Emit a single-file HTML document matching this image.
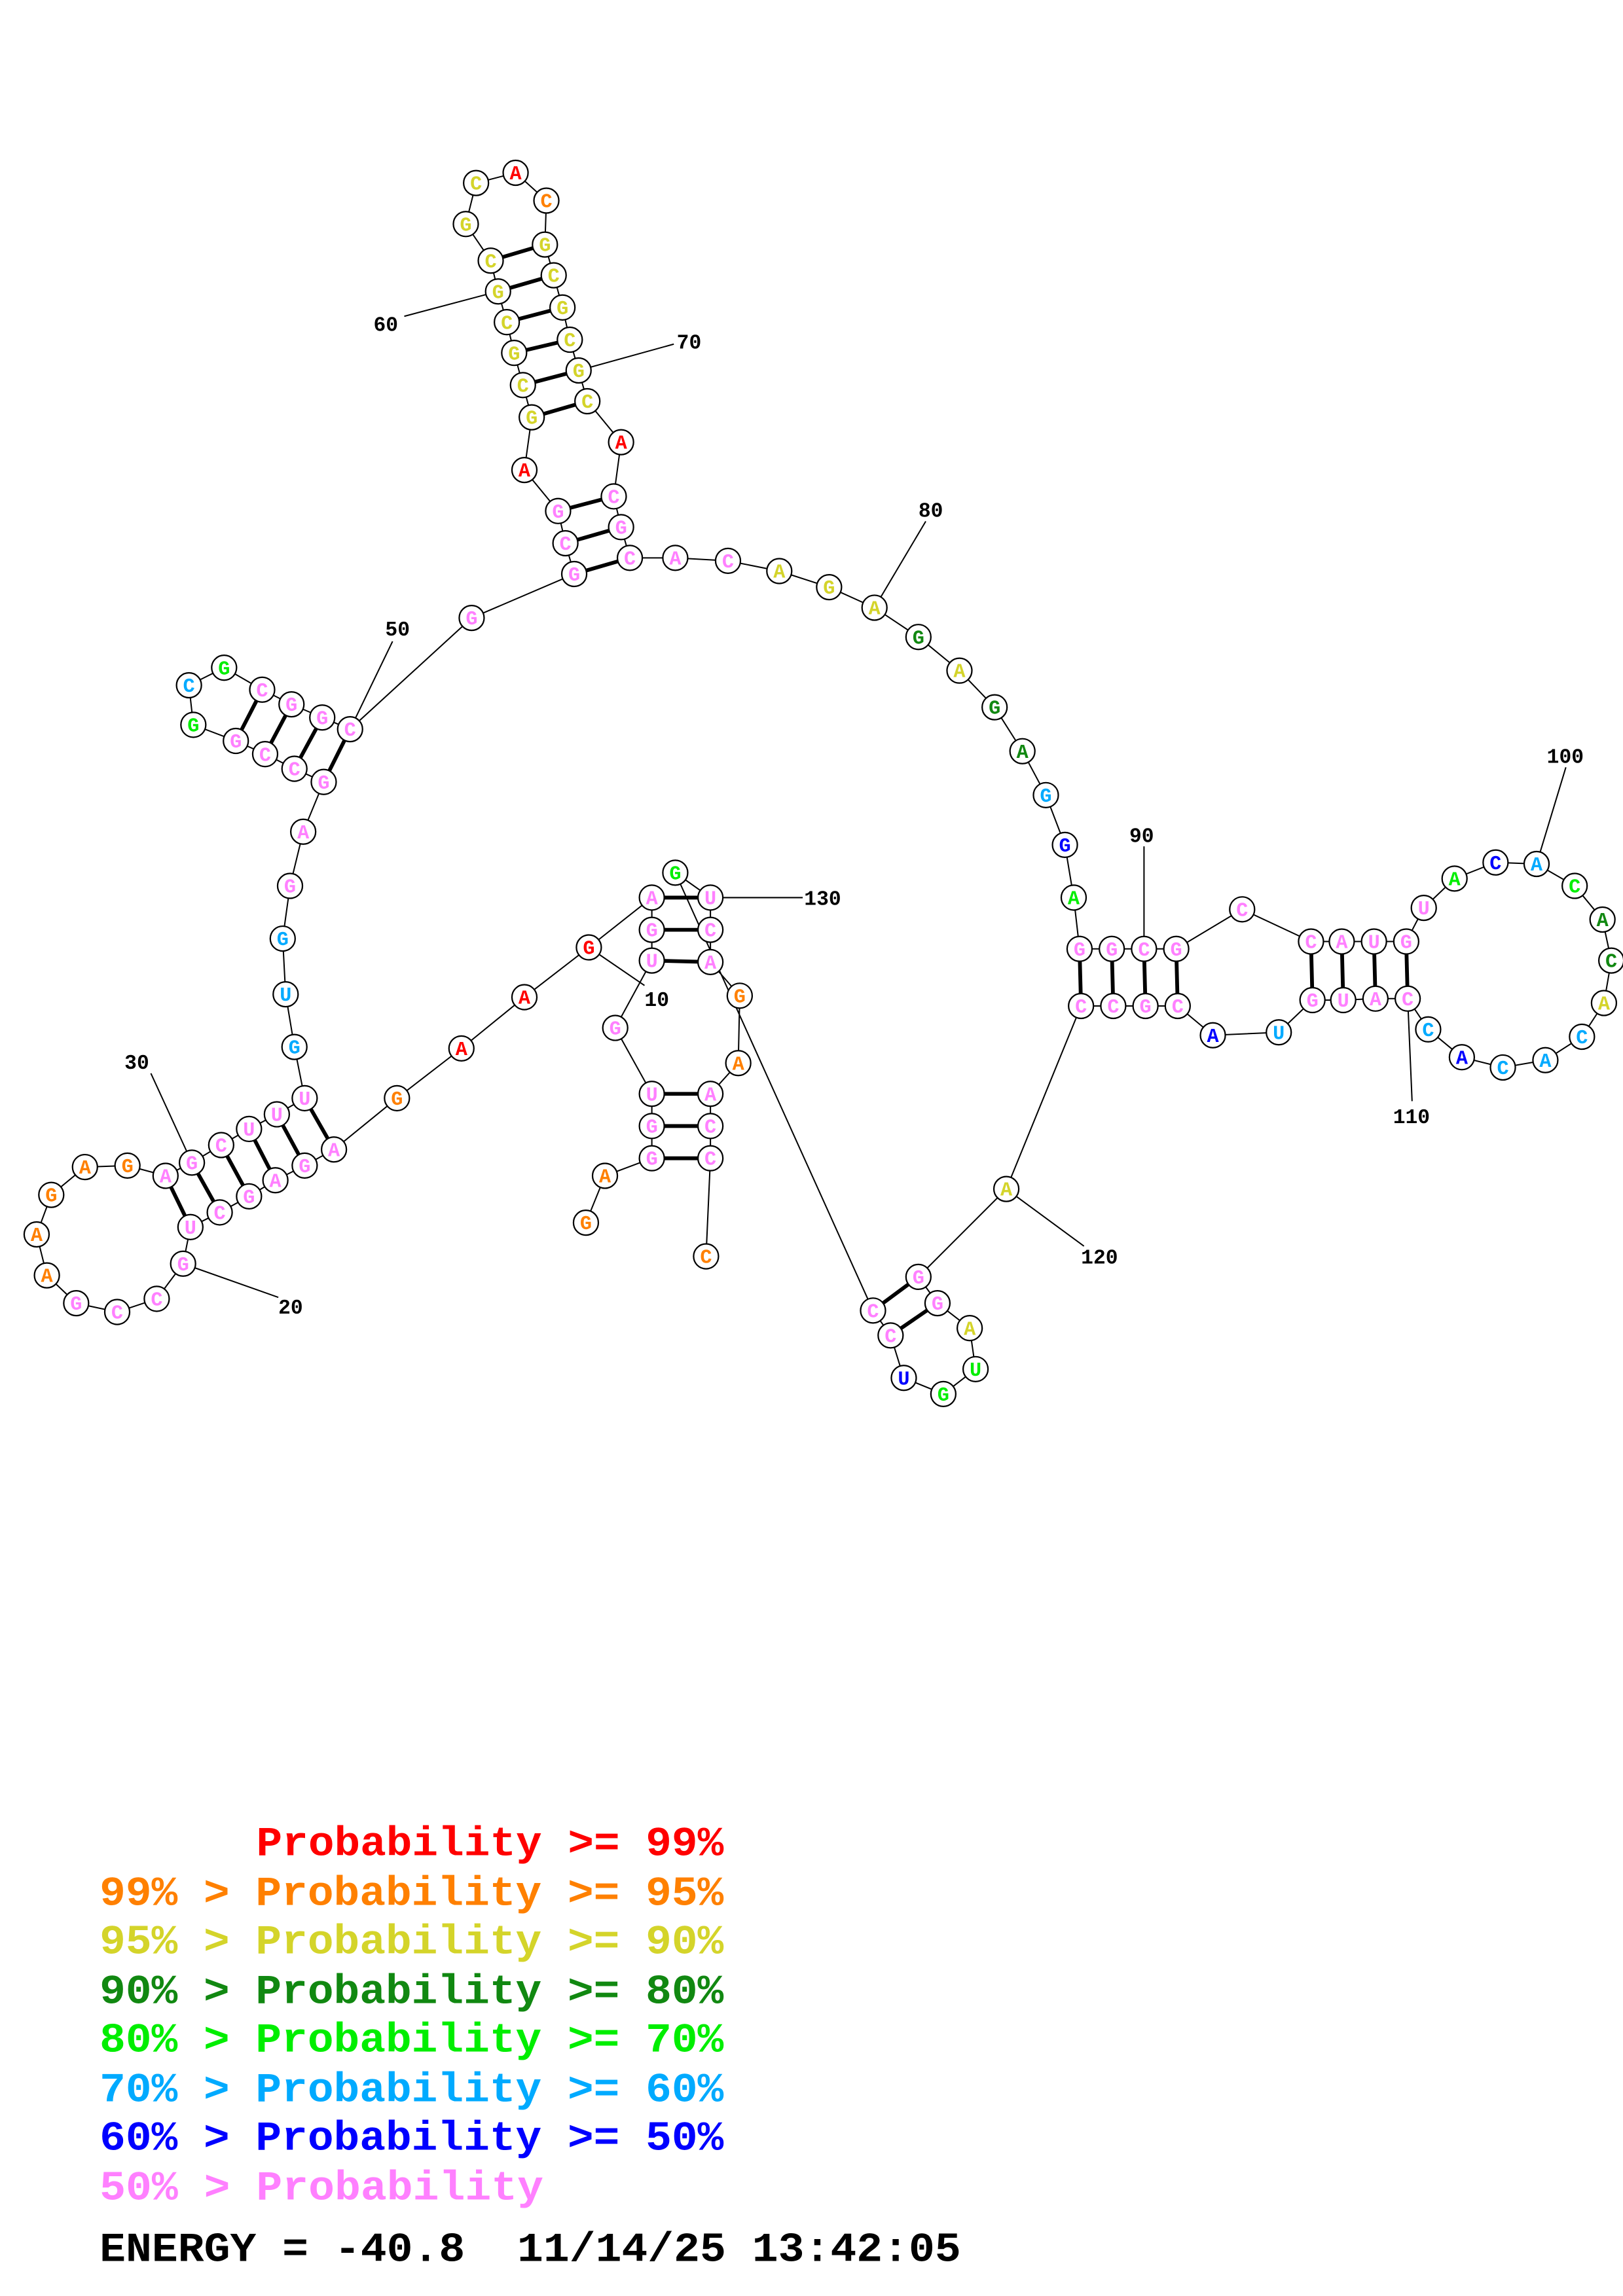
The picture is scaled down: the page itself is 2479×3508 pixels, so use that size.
<!DOCTYPE html>
<html><head><meta charset="utf-8"><style>
html,body{margin:0;padding:0;background:#fff;}
svg{display:block;}
.n circle{fill:#fff;stroke:#000;stroke-width:1;}
.n text{font-family:"Liberation Mono",monospace;font-weight:bold;font-size:13.5px;text-anchor:middle;}
.lb{font-family:"Liberation Mono",monospace;font-weight:bold;font-size:14px;fill:#000;}
.lg{font-family:"Liberation Mono",monospace;font-weight:bold;font-size:28px;}
</style></head><body>
<svg width="2479" height="3508" viewBox="0 0 1108 1568" preserveAspectRatio="none" xmlns="http://www.w3.org/2000/svg">
<rect width="1108" height="1568" fill="#fff"/>
<g stroke="#000" stroke-width="0.9" fill="none">
<polyline points="400,835 413,803 445,791 445,769 445,747 420,702 445,656 445,635 445,613 402,647 358,681 315,716 271,750 228,785 208,796 188,806 170,817 150,828 130,838 125,863 107,887 80,896 52,890 32,871 25,843 35,816 58,797 87,796 113,803 131,794 151,782 170,771 189,761 208,750 201,715 195,679 193,641 198,605 207,568 221,534 201,525 181,515 161,506 132,495 129,468 153,456 179,471 199,481 220,490 239,498 322,422 392,392 386,371 381,349 358,321 363,285 357,263 351,241 346,220 340,199 335,178 318,153 325,125 352,118 373,137 372,167 378,188 384,210 389,232 395,253 401,274 424,302 419,339 424,360 430,381 461,381 497,383 532,390 566,401 597,415 627,435 655,458 679,483 698,513 714,543 727,577 733,613 737,648 759,648 781,648 803,648 848,621 895,643 916,643 938,643 960,643 972,620 993,600 1021,589 1049,590 1075,605 1094,628 1100,656 1095,685 1080,708 1055,724 1026,729 998,722 975,703 961,682 939,682 917,683 896,683 873,705 828,707 804,687 782,687 760,687 738,687 687,812 627,872 640,890 662,907 666,935 644,952 617,941 608,912 596,895 461,596 485,613 485,635 485,657 505,680 504,726 485,747 485,769 485,791 482,858"/>
<line x1="402" y1="647" x2="440" y2="673"/>
<line x1="125" y1="863" x2="190" y2="886"/>
<line x1="131" y1="794" x2="103" y2="733"/>
<line x1="239" y1="498" x2="268" y2="438"/>
<line x1="340" y1="199" x2="276" y2="216"/>
<line x1="395" y1="253" x2="460" y2="235"/>
<line x1="597" y1="415" x2="632" y2="356"/>
<line x1="781" y1="648" x2="781" y2="578"/>
<line x1="1049" y1="590" x2="1069" y2="524"/>
<line x1="961" y1="682" x2="964" y2="752"/>
<line x1="687" y1="812" x2="740" y2="851"/>
<line x1="485" y1="613" x2="548" y2="613"/>
</g>
<g stroke="#000" stroke-width="2.6">
<line x1="445" y1="747" x2="485" y2="747"/><line x1="445" y1="769" x2="485" y2="769"/><line x1="445" y1="791" x2="485" y2="791"/>
<line x1="445" y1="613" x2="485" y2="613"/><line x1="445" y1="635" x2="485" y2="635"/><line x1="445" y1="656" x2="485" y2="657"/>
<line x1="208" y1="750" x2="228" y2="785"/><line x1="189" y1="761" x2="208" y2="796"/><line x1="170" y1="771" x2="188" y2="806"/><line x1="151" y1="782" x2="170" y2="817"/><line x1="131" y1="794" x2="150" y2="828"/><line x1="113" y1="803" x2="130" y2="838"/>
<line x1="239" y1="498" x2="221" y2="534"/><line x1="220" y1="490" x2="201" y2="525"/><line x1="199" y1="481" x2="181" y2="515"/><line x1="179" y1="471" x2="161" y2="506"/>
<line x1="392" y1="392" x2="430" y2="381"/><line x1="386" y1="371" x2="424" y2="360"/><line x1="381" y1="349" x2="419" y2="339"/>
<line x1="363" y1="285" x2="401" y2="274"/><line x1="357" y1="263" x2="395" y2="253"/><line x1="351" y1="241" x2="389" y2="232"/><line x1="346" y1="220" x2="384" y2="210"/><line x1="340" y1="199" x2="378" y2="188"/><line x1="335" y1="178" x2="372" y2="167"/>
<line x1="737" y1="648" x2="738" y2="687"/><line x1="759" y1="648" x2="760" y2="687"/><line x1="781" y1="648" x2="782" y2="687"/><line x1="803" y1="648" x2="804" y2="687"/>
<line x1="895" y1="643" x2="896" y2="683"/><line x1="916" y1="643" x2="917" y2="683"/><line x1="938" y1="643" x2="939" y2="682"/><line x1="960" y1="643" x2="961" y2="682"/>
<line x1="596" y1="895" x2="627" y2="872"/><line x1="608" y1="912" x2="640" y2="890"/>
</g>
<g class="n">
<g transform="translate(400,835)"><circle r="8.5"/><text y="4.5" fill="#ff8000">G</text></g>
<g transform="translate(413,803)"><circle r="8.5"/><text y="4.5" fill="#ff8000">A</text></g>
<g transform="translate(445,791)"><circle r="8.5"/><text y="4.5" fill="#ff80ff">G</text></g>
<g transform="translate(445,769)"><circle r="8.5"/><text y="4.5" fill="#ff80ff">G</text></g>
<g transform="translate(445,747)"><circle r="8.5"/><text y="4.5" fill="#ff80ff">U</text></g>
<g transform="translate(420,702)"><circle r="8.5"/><text y="4.5" fill="#ff80ff">G</text></g>
<g transform="translate(445,656)"><circle r="8.5"/><text y="4.5" fill="#ff80ff">U</text></g>
<g transform="translate(445,635)"><circle r="8.5"/><text y="4.5" fill="#ff80ff">G</text></g>
<g transform="translate(445,613)"><circle r="8.5"/><text y="4.5" fill="#ff80ff">A</text></g>
<g transform="translate(402,647)"><circle r="8.5"/><text y="4.5" fill="#ff0000">G</text></g>
<g transform="translate(358,681)"><circle r="8.5"/><text y="4.5" fill="#ff0000">A</text></g>
<g transform="translate(315,716)"><circle r="8.5"/><text y="4.5" fill="#ff0000">A</text></g>
<g transform="translate(271,750)"><circle r="8.5"/><text y="4.5" fill="#ff8000">G</text></g>
<g transform="translate(228,785)"><circle r="8.5"/><text y="4.5" fill="#ff80ff">A</text></g>
<g transform="translate(208,796)"><circle r="8.5"/><text y="4.5" fill="#ff80ff">G</text></g>
<g transform="translate(188,806)"><circle r="8.5"/><text y="4.5" fill="#ff80ff">A</text></g>
<g transform="translate(170,817)"><circle r="8.5"/><text y="4.5" fill="#ff80ff">G</text></g>
<g transform="translate(150,828)"><circle r="8.5"/><text y="4.5" fill="#ff80ff">C</text></g>
<g transform="translate(130,838)"><circle r="8.5"/><text y="4.5" fill="#ff80ff">U</text></g>
<g transform="translate(125,863)"><circle r="8.5"/><text y="4.5" fill="#ff80ff">G</text></g>
<g transform="translate(107,887)"><circle r="8.5"/><text y="4.5" fill="#ff80ff">C</text></g>
<g transform="translate(80,896)"><circle r="8.5"/><text y="4.5" fill="#ff80ff">C</text></g>
<g transform="translate(52,890)"><circle r="8.5"/><text y="4.5" fill="#ff80ff">G</text></g>
<g transform="translate(32,871)"><circle r="8.5"/><text y="4.5" fill="#ff8000">A</text></g>
<g transform="translate(25,843)"><circle r="8.5"/><text y="4.5" fill="#ff8000">A</text></g>
<g transform="translate(35,816)"><circle r="8.5"/><text y="4.5" fill="#ff8000">G</text></g>
<g transform="translate(58,797)"><circle r="8.5"/><text y="4.5" fill="#ff8000">A</text></g>
<g transform="translate(87,796)"><circle r="8.5"/><text y="4.5" fill="#ff8000">G</text></g>
<g transform="translate(113,803)"><circle r="8.5"/><text y="4.5" fill="#ff80ff">A</text></g>
<g transform="translate(131,794)"><circle r="8.5"/><text y="4.5" fill="#ff80ff">G</text></g>
<g transform="translate(151,782)"><circle r="8.5"/><text y="4.5" fill="#ff80ff">C</text></g>
<g transform="translate(170,771)"><circle r="8.5"/><text y="4.5" fill="#ff80ff">U</text></g>
<g transform="translate(189,761)"><circle r="8.5"/><text y="4.5" fill="#ff80ff">U</text></g>
<g transform="translate(208,750)"><circle r="8.5"/><text y="4.5" fill="#ff80ff">U</text></g>
<g transform="translate(201,715)"><circle r="8.5"/><text y="4.5" fill="#00aaff">G</text></g>
<g transform="translate(195,679)"><circle r="8.5"/><text y="4.5" fill="#00aaff">U</text></g>
<g transform="translate(193,641)"><circle r="8.5"/><text y="4.5" fill="#00aaff">G</text></g>
<g transform="translate(198,605)"><circle r="8.5"/><text y="4.5" fill="#ff80ff">G</text></g>
<g transform="translate(207,568)"><circle r="8.5"/><text y="4.5" fill="#ff80ff">A</text></g>
<g transform="translate(221,534)"><circle r="8.5"/><text y="4.5" fill="#ff80ff">G</text></g>
<g transform="translate(201,525)"><circle r="8.5"/><text y="4.5" fill="#ff80ff">C</text></g>
<g transform="translate(181,515)"><circle r="8.5"/><text y="4.5" fill="#ff80ff">C</text></g>
<g transform="translate(161,506)"><circle r="8.5"/><text y="4.5" fill="#ff80ff">G</text></g>
<g transform="translate(132,495)"><circle r="8.5"/><text y="4.5" fill="#00ee00">G</text></g>
<g transform="translate(129,468)"><circle r="8.5"/><text y="4.5" fill="#00aaff">C</text></g>
<g transform="translate(153,456)"><circle r="8.5"/><text y="4.5" fill="#00ee00">G</text></g>
<g transform="translate(179,471)"><circle r="8.5"/><text y="4.5" fill="#ff80ff">C</text></g>
<g transform="translate(199,481)"><circle r="8.5"/><text y="4.5" fill="#ff80ff">G</text></g>
<g transform="translate(220,490)"><circle r="8.5"/><text y="4.5" fill="#ff80ff">G</text></g>
<g transform="translate(239,498)"><circle r="8.5"/><text y="4.5" fill="#ff80ff">C</text></g>
<g transform="translate(322,422)"><circle r="8.5"/><text y="4.5" fill="#ff80ff">G</text></g>
<g transform="translate(392,392)"><circle r="8.5"/><text y="4.5" fill="#ff80ff">G</text></g>
<g transform="translate(386,371)"><circle r="8.5"/><text y="4.5" fill="#ff80ff">C</text></g>
<g transform="translate(381,349)"><circle r="8.5"/><text y="4.5" fill="#ff80ff">G</text></g>
<g transform="translate(358,321)"><circle r="8.5"/><text y="4.5" fill="#ff0000">A</text></g>
<g transform="translate(363,285)"><circle r="8.5"/><text y="4.5" fill="#d4d42a">G</text></g>
<g transform="translate(357,263)"><circle r="8.5"/><text y="4.5" fill="#d4d42a">C</text></g>
<g transform="translate(351,241)"><circle r="8.5"/><text y="4.5" fill="#d4d42a">G</text></g>
<g transform="translate(346,220)"><circle r="8.5"/><text y="4.5" fill="#d4d42a">C</text></g>
<g transform="translate(340,199)"><circle r="8.5"/><text y="4.5" fill="#d4d42a">G</text></g>
<g transform="translate(335,178)"><circle r="8.5"/><text y="4.5" fill="#d4d42a">C</text></g>
<g transform="translate(318,153)"><circle r="8.5"/><text y="4.5" fill="#d4d42a">G</text></g>
<g transform="translate(325,125)"><circle r="8.5"/><text y="4.5" fill="#d4d42a">C</text></g>
<g transform="translate(352,118)"><circle r="8.5"/><text y="4.5" fill="#ff0000">A</text></g>
<g transform="translate(373,137)"><circle r="8.5"/><text y="4.5" fill="#ff8000">C</text></g>
<g transform="translate(372,167)"><circle r="8.5"/><text y="4.5" fill="#d4d42a">G</text></g>
<g transform="translate(378,188)"><circle r="8.5"/><text y="4.5" fill="#d4d42a">C</text></g>
<g transform="translate(384,210)"><circle r="8.5"/><text y="4.5" fill="#d4d42a">G</text></g>
<g transform="translate(389,232)"><circle r="8.5"/><text y="4.5" fill="#d4d42a">C</text></g>
<g transform="translate(395,253)"><circle r="8.5"/><text y="4.5" fill="#d4d42a">G</text></g>
<g transform="translate(401,274)"><circle r="8.5"/><text y="4.5" fill="#d4d42a">C</text></g>
<g transform="translate(424,302)"><circle r="8.5"/><text y="4.5" fill="#ff0000">A</text></g>
<g transform="translate(419,339)"><circle r="8.5"/><text y="4.5" fill="#ff80ff">C</text></g>
<g transform="translate(424,360)"><circle r="8.5"/><text y="4.5" fill="#ff80ff">G</text></g>
<g transform="translate(430,381)"><circle r="8.5"/><text y="4.5" fill="#ff80ff">C</text></g>
<g transform="translate(461,381)"><circle r="8.5"/><text y="4.5" fill="#ff80ff">A</text></g>
<g transform="translate(497,383)"><circle r="8.5"/><text y="4.5" fill="#ff80ff">C</text></g>
<g transform="translate(532,390)"><circle r="8.5"/><text y="4.5" fill="#d4d42a">A</text></g>
<g transform="translate(566,401)"><circle r="8.5"/><text y="4.5" fill="#d4d42a">G</text></g>
<g transform="translate(597,415)"><circle r="8.5"/><text y="4.5" fill="#d4d42a">A</text></g>
<g transform="translate(627,435)"><circle r="8.5"/><text y="4.5" fill="#118811">G</text></g>
<g transform="translate(655,458)"><circle r="8.5"/><text y="4.5" fill="#d4d42a">A</text></g>
<g transform="translate(679,483)"><circle r="8.5"/><text y="4.5" fill="#118811">G</text></g>
<g transform="translate(698,513)"><circle r="8.5"/><text y="4.5" fill="#118811">A</text></g>
<g transform="translate(714,543)"><circle r="8.5"/><text y="4.5" fill="#00aaff">G</text></g>
<g transform="translate(727,577)"><circle r="8.5"/><text y="4.5" fill="#0000ff">G</text></g>
<g transform="translate(733,613)"><circle r="8.5"/><text y="4.5" fill="#00ee00">A</text></g>
<g transform="translate(737,648)"><circle r="8.5"/><text y="4.5" fill="#ff80ff">G</text></g>
<g transform="translate(759,648)"><circle r="8.5"/><text y="4.5" fill="#ff80ff">G</text></g>
<g transform="translate(781,648)"><circle r="8.5"/><text y="4.5" fill="#ff80ff">C</text></g>
<g transform="translate(803,648)"><circle r="8.5"/><text y="4.5" fill="#ff80ff">G</text></g>
<g transform="translate(848,621)"><circle r="8.5"/><text y="4.5" fill="#ff80ff">C</text></g>
<g transform="translate(895,643)"><circle r="8.5"/><text y="4.5" fill="#ff80ff">C</text></g>
<g transform="translate(916,643)"><circle r="8.5"/><text y="4.5" fill="#ff80ff">A</text></g>
<g transform="translate(938,643)"><circle r="8.5"/><text y="4.5" fill="#ff80ff">U</text></g>
<g transform="translate(960,643)"><circle r="8.5"/><text y="4.5" fill="#ff80ff">G</text></g>
<g transform="translate(972,620)"><circle r="8.5"/><text y="4.5" fill="#ff80ff">U</text></g>
<g transform="translate(993,600)"><circle r="8.5"/><text y="4.5" fill="#00ee00">A</text></g>
<g transform="translate(1021,589)"><circle r="8.5"/><text y="4.5" fill="#0000ff">C</text></g>
<g transform="translate(1049,590)"><circle r="8.5"/><text y="4.5" fill="#00aaff">A</text></g>
<g transform="translate(1075,605)"><circle r="8.5"/><text y="4.5" fill="#00ee00">C</text></g>
<g transform="translate(1094,628)"><circle r="8.5"/><text y="4.5" fill="#118811">A</text></g>
<g transform="translate(1100,656)"><circle r="8.5"/><text y="4.5" fill="#118811">C</text></g>
<g transform="translate(1095,685)"><circle r="8.5"/><text y="4.5" fill="#d4d42a">A</text></g>
<g transform="translate(1080,708)"><circle r="8.5"/><text y="4.5" fill="#00aaff">C</text></g>
<g transform="translate(1055,724)"><circle r="8.5"/><text y="4.5" fill="#00aaff">A</text></g>
<g transform="translate(1026,729)"><circle r="8.5"/><text y="4.5" fill="#00aaff">C</text></g>
<g transform="translate(998,722)"><circle r="8.5"/><text y="4.5" fill="#0000ff">A</text></g>
<g transform="translate(975,703)"><circle r="8.5"/><text y="4.5" fill="#00aaff">C</text></g>
<g transform="translate(961,682)"><circle r="8.5"/><text y="4.5" fill="#ff80ff">C</text></g>
<g transform="translate(939,682)"><circle r="8.5"/><text y="4.5" fill="#ff80ff">A</text></g>
<g transform="translate(917,683)"><circle r="8.5"/><text y="4.5" fill="#ff80ff">U</text></g>
<g transform="translate(896,683)"><circle r="8.5"/><text y="4.5" fill="#ff80ff">G</text></g>
<g transform="translate(873,705)"><circle r="8.5"/><text y="4.5" fill="#00aaff">U</text></g>
<g transform="translate(828,707)"><circle r="8.5"/><text y="4.5" fill="#0000ff">A</text></g>
<g transform="translate(804,687)"><circle r="8.5"/><text y="4.5" fill="#ff80ff">C</text></g>
<g transform="translate(782,687)"><circle r="8.5"/><text y="4.5" fill="#ff80ff">G</text></g>
<g transform="translate(760,687)"><circle r="8.5"/><text y="4.5" fill="#ff80ff">C</text></g>
<g transform="translate(738,687)"><circle r="8.5"/><text y="4.5" fill="#ff80ff">C</text></g>
<g transform="translate(687,812)"><circle r="8.5"/><text y="4.5" fill="#d4d42a">A</text></g>
<g transform="translate(627,872)"><circle r="8.5"/><text y="4.5" fill="#ff80ff">G</text></g>
<g transform="translate(640,890)"><circle r="8.5"/><text y="4.5" fill="#ff80ff">G</text></g>
<g transform="translate(662,907)"><circle r="8.5"/><text y="4.5" fill="#d4d42a">A</text></g>
<g transform="translate(666,935)"><circle r="8.5"/><text y="4.5" fill="#00ee00">U</text></g>
<g transform="translate(644,952)"><circle r="8.5"/><text y="4.5" fill="#00ee00">G</text></g>
<g transform="translate(617,941)"><circle r="8.5"/><text y="4.5" fill="#0000ff">U</text></g>
<g transform="translate(608,912)"><circle r="8.5"/><text y="4.5" fill="#ff80ff">C</text></g>
<g transform="translate(596,895)"><circle r="8.5"/><text y="4.5" fill="#ff80ff">C</text></g>
<g transform="translate(461,596)"><circle r="8.5"/><text y="4.5" fill="#00ee00">G</text></g>
<g transform="translate(485,613)"><circle r="8.5"/><text y="4.5" fill="#ff80ff">U</text></g>
<g transform="translate(485,635)"><circle r="8.5"/><text y="4.5" fill="#ff80ff">C</text></g>
<g transform="translate(485,657)"><circle r="8.5"/><text y="4.5" fill="#ff80ff">A</text></g>
<g transform="translate(505,680)"><circle r="8.5"/><text y="4.5" fill="#ff8000">G</text></g>
<g transform="translate(504,726)"><circle r="8.5"/><text y="4.5" fill="#ff8000">A</text></g>
<g transform="translate(485,747)"><circle r="8.5"/><text y="4.5" fill="#ff80ff">A</text></g>
<g transform="translate(485,769)"><circle r="8.5"/><text y="4.5" fill="#ff80ff">C</text></g>
<g transform="translate(485,791)"><circle r="8.5"/><text y="4.5" fill="#ff80ff">C</text></g>
<g transform="translate(482,858)"><circle r="8.5"/><text y="4.5" fill="#ff8000">C</text></g>
</g>
<g class="lb">
<text x="440" y="687">10</text>
<text x="190" y="897">20</text>
<text x="85" y="730">30</text>
<text x="263" y="434">50</text>
<text x="255" y="226">60</text>
<text x="462" y="238">70</text>
<text x="627" y="353">80</text>
<text x="771" y="575">90</text>
<text x="1056" y="521">100</text>
<text x="951" y="767">110</text>
<text x="738" y="863">120</text>
<text x="549" y="618">130</text>
</g>
<g class="lg">
<text x="175" y="1267" fill="#ff0000" textLength="319" lengthAdjust="spacingAndGlyphs">Probability &gt;= 99%</text>
<text x="68" y="1301" fill="#ff8000" textLength="426" lengthAdjust="spacingAndGlyphs">99% &gt; Probability &gt;= 95%</text>
<text x="68" y="1334" fill="#d4d42a" textLength="426" lengthAdjust="spacingAndGlyphs">95% &gt; Probability &gt;= 90%</text>
<text x="68" y="1368" fill="#118811" textLength="426" lengthAdjust="spacingAndGlyphs">90% &gt; Probability &gt;= 80%</text>
<text x="68" y="1401" fill="#00ee00" textLength="426" lengthAdjust="spacingAndGlyphs">80% &gt; Probability &gt;= 70%</text>
<text x="68" y="1435" fill="#00aaff" textLength="426" lengthAdjust="spacingAndGlyphs">70% &gt; Probability &gt;= 60%</text>
<text x="68" y="1468" fill="#0000ff" textLength="426" lengthAdjust="spacingAndGlyphs">60% &gt; Probability &gt;= 50%</text>
<text x="68" y="1502" fill="#ff80ff" textLength="303" lengthAdjust="spacingAndGlyphs">50% &gt; Probability</text>
<text x="68" y="1544" fill="#000" textLength="588" lengthAdjust="spacingAndGlyphs" xml:space="preserve">ENERGY = -40.8  11/14/25 13:42:05</text>
</g>
</svg>
</body></html>
